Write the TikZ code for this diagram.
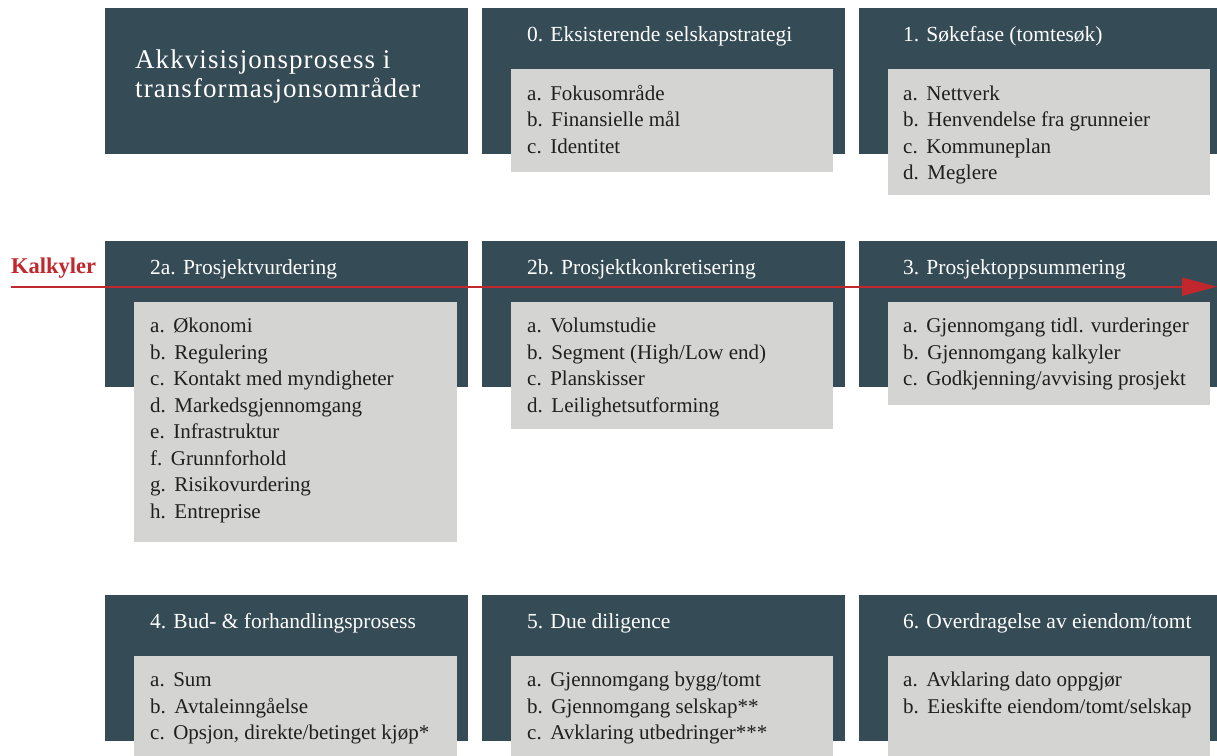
\documentclass[tikz,border=0pt]{standalone}
\usepackage{fontspec}
\setmainfont{Liberation Serif}
\usetikzlibrary{arrows.meta}
\definecolor{darkteal}{HTML}{354B55}
\definecolor{lightgray}{HTML}{D4D4D3}
\definecolor{kred}{HTML}{C1272D}
\newcommand{\itemlist}[4]{% name, x, first baseline y, list
  \foreach \t [count=\i] in {#4}{%
    \pgfmathsetmacro{\yy}{#3+(\i-1)*26.5}%
    \node[itemtext] (#1-\i) at (#2,\yy) {\ifcase\i\or a.\or b.\or c.\or d.\or e.\or f.\or g.\or h.\fi\hspace{8.5pt}\t};
  }%
}
\begin{document}
\begin{tikzpicture}[x=1pt,y=-1pt,
  darkbox/.style={fill=darkteal, draw=none, anchor=north west, inner sep=0pt, outer sep=0pt, minimum height=146pt, minimum width=363pt},
  graybox/.style={fill=lightgray, draw=none, anchor=north west, inner sep=0pt, outer sep=0pt, minimum width=322pt},
  headtext/.style={anchor=base west, inner sep=0pt, text=white, font=\fontsize{21.5}{24}\selectfont},
  titletext/.style={anchor=base west, inner sep=0pt, text=white, font=\fontsize{27}{27}\selectfont\addfontfeature{LetterSpace=4}},
  itemtext/.style={anchor=base west, inner sep=0pt, text=black!88, font=\fontsize{21}{24}\selectfont},
  arrowline/.style={draw=kred, line width=2pt, -{Triangle[length=35pt,width=18pt]}}]
\clip (0,0) rectangle (1217,755);
\fill[white] (0,0) rectangle (1217,755);
% dark boxes
\node[darkbox] (d0) at (105,8) {};
\node[darkbox] (d1) at (482,8) {};
\node[darkbox] (d2) at (859,8) {};
\node[darkbox] (d3) at (105,241) {};
\node[darkbox] (d4) at (482,241) {};
\node[darkbox] (d5) at (859,241) {};
\node[darkbox] (d6) at (105,595) {};
\node[darkbox] (d7) at (482,595) {};
\node[darkbox] (d8) at (859,595) {};
% arrow
\coordinate (ks) at (11,286.7);
\coordinate (ke) at (1217,286.7);
\draw[arrowline] (ks) -- (ke);
\node[anchor=base west, inner sep=0pt, text=kred, font=\fontsize{22.5}{24}\selectfont\bfseries] (kalk) at (11,273) {Kalkyler};
% gray boxes
\node[graybox, minimum height=103pt] (g1) at (511,69) {};
\node[graybox, minimum height=126pt] (g2) at (888,69) {};
\node[graybox, minimum height=240pt, minimum width=323pt] (g3) at (134,302) {};
\node[graybox, minimum height=127pt] (g4) at (511,302) {};
\node[graybox, minimum height=103pt] (g5) at (888,302) {};
\node[graybox, minimum height=110pt, minimum width=323pt] (g6) at (134,656) {};
\node[graybox, minimum height=110pt] (g7) at (511,656) {};
\node[graybox, minimum height=110pt] (g8) at (888,656) {};
% title
\node[titletext] (title1) at (135,68) {Akkvisisjonsprosess i};
\node[titletext] (title2) at (135,97) {transformasjonsområder};
% headers
\node[headtext] (h1) at (527,41) {0. Eksisterende selskapstrategi};
\node[headtext] (h2) at (903,41) {1. Søkefase (tomtesøk)};
\node[headtext] (h3) at (150,274) {2a. Prosjektvurdering};
\node[headtext] (h4) at (527,274) {2b. Prosjektkonkretisering};
\node[headtext] (h5) at (903,274) {3. Prosjektoppsummering};
\node[headtext] (h6) at (150,628) {4. Bud- \& forhandlingsprosess};
\node[headtext] (h7) at (527,628) {5. Due diligence};
\node[headtext] (h8) at (903,628) {6. Overdragelse av eiendom/tomt};
% items
\itemlist{i1}{527}{100}{Fokusområde,Finansielle mål,Identitet}
\itemlist{i2}{903}{100}{Nettverk,Henvendelse fra grunneier,Kommuneplan,Meglere}
\itemlist{i3}{150}{332.5}{Økonomi,Regulering,Kontakt med myndigheter,Markedsgjennomgang,Infrastruktur,Grunnforhold,Risikovurdering,Entreprise}
\itemlist{i4}{527}{332.5}{Volumstudie,Segment (High/Low end),Planskisser,Leilighetsutforming}
\itemlist{i5}{903}{332.5}{Gjennomgang tidl. vurderinger,Gjennomgang kalkyler,Godkjenning/avvising prosjekt}
\itemlist{i6}{150}{686.5}{Sum,Avtaleinngåelse,{Opsjon, direkte/betinget kjøp*}}
\itemlist{i7}{527}{686.5}{Gjennomgang bygg/tomt,Gjennomgang selskap**,Avklaring utbedringer***}
\itemlist{i8}{903}{686.5}{Avklaring dato oppgjør,Eieskifte eiendom/tomt/selskap}
\end{tikzpicture}
\end{document}
